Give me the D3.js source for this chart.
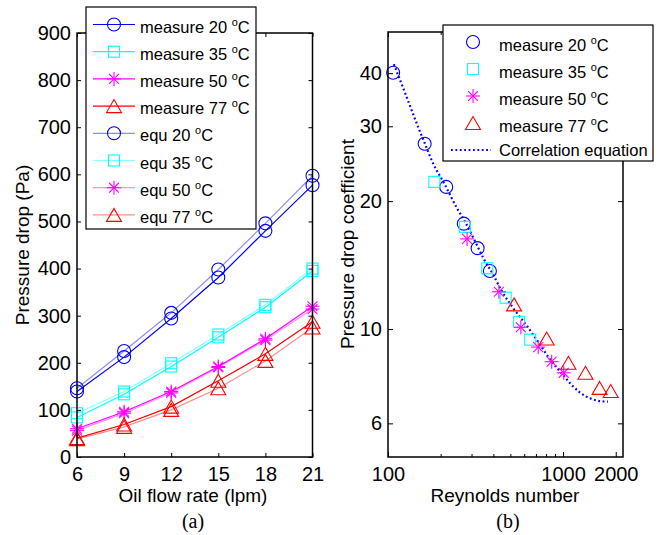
<!DOCTYPE html>
<html>
<head>
<meta charset="utf-8">
<script src="https://cdn.jsdelivr.net/npm/d3@7"></script>
<style>
  body { margin: 0; background: #fff; }
  svg { font-family: "Liberation Sans", Arial, Helvetica, sans-serif; }
</style>
</head>
<body>
<script>
// (a) pressure drop vs oil flow rate
const flow = [6, 9, 12, 15, 18, 21];
const meas20 = [139, 212, 294, 381, 480, 577];
const meas35 = [84, 133, 192, 254, 318, 395];
const meas50 = [60, 96, 139, 192, 251, 320];
const meas77 = [40, 69, 107, 162, 219, 287];
const equ20 = [146, 225, 306, 398, 496, 597];
const equ35 = [93, 139, 199, 260, 323, 400];
const equ50 = [56, 93, 136, 190, 248, 314];
const equ77 = [38, 64, 100, 146, 204, 275];
const yTicksA = [0, 100, 200, 300, 400, 500, 600, 700, 800, 900];

// (b) pressure drop coefficient vs Reynolds number
const re20 = [107, 162, 215, 271, 325, 382];
const cf20 = [40.1, 27.3, 21.6, 17.7, 15.5, 13.7];
const re35 = [184, 275, 369, 470, 561, 649];
const cf35 = [22.2, 17.4, 13.9, 11.85, 10.4, 9.44];
const re50 = [283, 430, 574, 721, 861, 1009];
const cf50 = [16.3, 12.24, 10.1, 9.07, 8.38, 7.89];
const re77 = [525, 806, 1073, 1343, 1617, 1871];
const cf77 = [11.43, 9.5, 8.33, 7.89, 7.27, 7.15];
const reCorr = [108, 125, 149, 162, 178, 212, 247, 275, 314, 350, 400, 446, 519, 619, 737, 840, 1000, 1116, 1245, 1452, 1655, 1804];
const cfCorr = [42, 36, 29.8, 27.4, 24.9, 21.8, 19.3, 17.9, 16.1, 14.7, 13.4, 12.3, 11.2, 10.2, 9.2, 8.5, 7.8, 7.4, 7.1, 6.85, 6.76, 6.75];
const xTicksB = [100, 1000, 2000];
const xMinorB = [200, 300, 400, 500, 600, 700, 800, 900];
const yTicksB = [6, 10, 20, 30, 40];

const temps = ["20", "35", "50", "77"];
const colors = ["#0000ff", "#00ffff", "#ff00ff", "#ff0000"];
const shapes = ["circle", "square", "star", "triangle"];

const svg = d3.select("body").append("svg")
  .attr("width", 668).attr("height", 535);

function marker(g, type, x, y, color, s) {
  s = s || 1;
  if (type === "circle") {
    g.append("circle").attr("cx", x).attr("cy", y).attr("r", 6.5 * s)
      .attr("fill", "none").attr("stroke", color).attr("stroke-width", 1.1);
  } else if (type === "square") {
    g.append("rect").attr("x", x - 5.5 * s).attr("y", y - 5.5 * s)
      .attr("width", 11 * s).attr("height", 11 * s)
      .attr("fill", "none").attr("stroke", color).attr("stroke-width", 1.1);
  } else if (type === "star") {
    const r = 7 * s;
    [0, 45, 90, 135].forEach(a => {
      const dx = r * Math.cos(a * Math.PI / 180), dy = r * Math.sin(a * Math.PI / 180);
      g.append("line").attr("x1", x - dx).attr("y1", y - dy)
        .attr("x2", x + dx).attr("y2", y + dy)
        .attr("stroke", color).attr("stroke-width", 1.1);
    });
  } else {
    const w = 7.5 * s, h = 6.5 * s;
    g.append("path")
      .attr("d", `M${x},${y - h}L${x + w},${y + h}L${x - w},${y + h}Z`)
      .attr("fill", "none").attr("stroke", color).attr("stroke-width", 1.1);
  }
}

function degText(sel, pre) {
  sel.append("tspan").text(pre);
  sel.append("tspan").text("o").attr("font-size", "0.66em").attr("dy", -7);
  sel.append("tspan").text("C").attr("dy", 7);
}

// ---------- panel (a) ----------
const xA = d3.scaleLinear().domain([6, 21]).range([77, 312.5]);
const yA = d3.scaleLinear().domain([0, 900]).range([457, 33]);
const gA = svg.append("g");

const line = d3.line().x((d, i) => xA(flow[i])).y(d => yA(d));
const measure = [meas20, meas35, meas50, meas77];
const equ = [equ20, equ35, equ50, equ77];

equ.forEach((vals, k) => {
  gA.append("path").attr("d", line(vals)).attr("fill", "none")
    .attr("stroke", colors[k]).attr("stroke-opacity", 0.45).attr("stroke-width", 1.2);
  vals.forEach((v, i) => marker(gA, shapes[k], xA(flow[i]), yA(v), colors[k]));
});
measure.forEach((vals, k) => {
  gA.append("path").attr("d", line(vals)).attr("fill", "none")
    .attr("stroke", colors[k]).attr("stroke-width", 1.2);
  vals.forEach((v, i) => marker(gA, shapes[k], xA(flow[i]), yA(v), colors[k]));
});

// axes panel (a)
gA.append("g").attr("transform", `translate(0,${yA(0)})`)
  .call(d3.axisBottom(xA).tickValues(flow).tickSize(-4).tickPadding(10))
  .call(g => g.select(".domain").remove());
gA.append("g").attr("transform", `translate(0,${yA(900)})`)
  .call(d3.axisTop(xA).tickValues(flow).tickSize(-4).tickFormat(""))
  .call(g => g.select(".domain").remove());
gA.append("g").attr("transform", `translate(${xA(6)},0)`)
  .call(d3.axisLeft(yA).tickValues(yTicksA).tickSize(-4).tickPadding(6))
  .call(g => g.select(".domain").remove());
gA.append("g").attr("transform", `translate(${xA(21)},0)`)
  .call(d3.axisRight(yA).tickValues(yTicksA).tickSize(-4).tickFormat(""))
  .call(g => g.select(".domain").remove());
gA.append("rect").attr("x", xA(6)).attr("y", yA(900))
  .attr("width", xA(21) - xA(6)).attr("height", yA(0) - yA(900))
  .attr("fill", "none").attr("stroke", "#000").attr("stroke-width", 1.5);

// legend panel (a)
const legA = gA.append("g");
legA.append("rect").attr("x", 86).attr("y", 7).attr("width", 170).attr("height", 222)
  .attr("fill", "#fff").attr("stroke", "#000").attr("stroke-width", 1.2);
const legLabelsA = temps.map(t => "measure " + t + " ").concat(temps.map(t => "equ " + t + " "));
legLabelsA.forEach((lab, i) => {
  const k = i % 4, ly = 24.5 + 27.2 * i;
  legA.append("line").attr("x1", 93).attr("x2", 135).attr("y1", ly).attr("y2", ly)
    .attr("stroke", colors[k]).attr("stroke-width", 1.2)
    .attr("stroke-opacity", i < 4 ? 1 : 0.45);
  marker(legA, shapes[k], 114, ly, colors[k]);
  legA.append("text").attr("x", 140).attr("y", ly + 8).attr("font-size", 16.5)
    .call(degText, lab);
});

// ---------- panel (b) ----------
const xB = d3.scaleLog().domain([100, 2200]).range([388, 623]);
const yB = d3.scaleLog().domain([5, 50]).range([457, 32]);
const gB = svg.append("g");

const corr = d3.line().x((d, i) => xB(reCorr[i])).y(d => yB(d)).curve(d3.curveMonotoneX);
gB.append("path").attr("d", corr(cfCorr)).attr("fill", "none")
  .attr("stroke", "#0000ff").attr("stroke-width", 2.2).attr("stroke-dasharray", "1.8,2.6");

[[re20, cf20], [re35, cf35], [re50, cf50], [re77, cf77]].forEach(([re, cf], k) => {
  re.forEach((r, i) => marker(gB, shapes[k], xB(r), yB(cf[i]), colors[k]));
});

gB.append("g").attr("transform", `translate(0,${yB(5)})`)
  .call(d3.axisBottom(xB).tickValues(xTicksB).tickFormat(d3.format("d")).tickSize(-5).tickPadding(10))
  .call(g => g.select(".domain").remove());
gB.append("g").attr("transform", `translate(0,${yB(5)})`)
  .call(d3.axisBottom(xB).tickValues(xMinorB).tickFormat("").tickSize(-3))
  .call(g => g.select(".domain").remove());
gB.append("g").attr("transform", `translate(0,${yB(50)})`)
  .call(d3.axisTop(xB).tickValues(xTicksB).tickFormat("").tickSize(-5))
  .call(g => g.select(".domain").remove());
gB.append("g").attr("transform", `translate(0,${yB(50)})`)
  .call(d3.axisTop(xB).tickValues(xMinorB).tickFormat("").tickSize(-3))
  .call(g => g.select(".domain").remove());
gB.append("g").attr("transform", `translate(${xB(100)},0)`)
  .call(d3.axisLeft(yB).tickValues(yTicksB).tickFormat(d3.format("d")).tickSize(-5).tickPadding(6))
  .call(g => g.select(".domain").remove());
gB.append("g").attr("transform", `translate(${xB(2200)},0)`)
  .call(d3.axisRight(yB).tickValues(yTicksB).tickFormat("").tickSize(-5))
  .call(g => g.select(".domain").remove());
gB.append("rect").attr("x", xB(100)).attr("y", yB(50))
  .attr("width", xB(2200) - xB(100)).attr("height", yB(5) - yB(50))
  .attr("fill", "none").attr("stroke", "#000").attr("stroke-width", 1.5);

// legend panel (b)
const legB = gB.append("g");
legB.append("rect").attr("x", 443).attr("y", 25).attr("width", 210).attr("height", 136)
  .attr("fill", "#fff").attr("stroke", "#000").attr("stroke-width", 1.2);
temps.forEach((t, k) => {
  const ly = 42 + 27 * k;
  marker(legB, shapes[k], 473, ly, colors[k]);
  legB.append("text").attr("x", 499).attr("y", ly + 9).attr("font-size", 16.5)
    .call(degText, "measure " + t + " ");
});
legB.append("line").attr("x1", 451).attr("x2", 491).attr("y1", 150).attr("y2", 150)
  .attr("stroke", "#0000ff").attr("stroke-width", 2.2).attr("stroke-dasharray", "1.8,2.6");
legB.append("text").attr("x", 499).attr("y", 156).attr("font-size", 16.5).text("Correlation equation");

// tick text styling
svg.selectAll(".tick text").attr("font-size", 20).attr("fill", "#000")
  .attr("font-family", "'Liberation Sans', Arial, sans-serif");
svg.selectAll(".tick line").attr("stroke", "#000");

// axis titles
svg.append("text").attr("x", 193).attr("y", 502).attr("text-anchor", "middle")
  .attr("font-size", 19).text("Oil flow rate (lpm)");
svg.append("text").attr("transform", "translate(29,245) rotate(-90)")
  .attr("text-anchor", "middle").attr("font-size", 19).text("Pressure drop (Pa)");
svg.append("text").attr("x", 505).attr("y", 502).attr("text-anchor", "middle")
  .attr("font-size", 19).text("Reynolds number");
svg.append("text").attr("transform", "translate(354,244) rotate(-90)")
  .attr("text-anchor", "middle").attr("font-size", 19).text("Pressure drop coefficient");
svg.append("text").attr("x", 193).attr("y", 528).attr("text-anchor", "middle")
  .attr("font-family", "'Liberation Serif', 'Times New Roman', serif").attr("font-size", 20).text("(a)");
svg.append("text").attr("x", 508).attr("y", 528).attr("text-anchor", "middle")
  .attr("font-family", "'Liberation Serif', 'Times New Roman', serif").attr("font-size", 20).text("(b)");
</script>
</body>
</html>
